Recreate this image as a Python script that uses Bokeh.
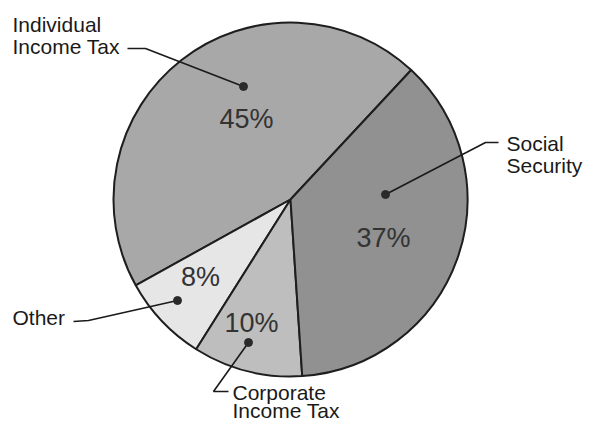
import math
from bokeh.plotting import figure
from bokeh.models import Range1d, ColumnDataSource
from bokeh.core.properties import value
from bokeh.embed import file_html
from bokeh.resources import INLINE

# ---- data ----
categories = ["Individual Income Tax", "Other", "Corporate Income Tax", "Social Security"]
shares = [45, 8, 10, 37]
pct_labels = ["45%", "8%", "10%", "37%"]
colors = ["#a8a8a8", "#e6e6e6", "#bebebe", "#919191"]

W, H = 583, 422
p = figure(width=W, height=H, output_backend="svg", toolbar_location=None,
           x_range=Range1d(0, W), y_range=Range1d(430 - H, 430),
           x_axis_location=None, y_axis_location=None,
           min_border=0, outline_line_color=None)
p.grid.visible = False
p.background_fill_color = "white"
p.border_fill_color = "white"

def Y(img_y):
    return 430 - img_y

cx, cy, r = 290, Y(199), 177
start0 = math.radians(47)
total = sum(shares)
starts, ends = [], []
a = start0
for s in shares:
    starts.append(a)
    a += 2 * math.pi * s / total
    ends.append(a)

src = ColumnDataSource(dict(cat=categories, start=starts, end=ends, color=colors))
p.wedge(x=cx, y=cy, radius=r, start_angle="start", end_angle="end",
        fill_color="color", line_color="#1e1e1e", line_width=2, source=src)

# percent labels (positions are layout)
pct_x = [246, 200, 251, 383]
pct_y = [Y(118), Y(276), Y(322), Y(237)]
p.text(x=pct_x, y=pct_y, text=pct_labels, text_font=value("Liberation Sans"),
       text_font_size="27px", text_color="#333333", text_align="center",
       text_baseline="middle")

# leader lines
leaders_x = [[127, 145, 243], [385, 485, 498], [73, 88, 177], [248, 213, 228]]
leaders_y = [[Y(48), Y(48), Y(86)], [Y(194), Y(142), Y(142)],
             [Y(321), Y(320), Y(300)], [Y(342), Y(391), Y(391)]]
p.multi_line(xs=leaders_x, ys=leaders_y, line_color="#1a1a1a", line_width=1.6)
p.scatter(x=[243, 385, 177, 248], y=[Y(86), Y(194), Y(300), Y(342)],
          size=8, fill_color="#2a2a2a", line_color="#2a2a2a")

# category labels
lab_text = ["Individual", "Income Tax", "Social", "Security", "Other",
            "Corporate", "Income Tax"]
lab_x = [12, 12, 506, 506, 12, 232, 232]
lab_y = [Y(24), Y(45.5), Y(142.5), Y(164.5), Y(317), Y(392), Y(410)]
p.text(x=lab_x, y=lab_y, text=lab_text, text_font=value("Liberation Sans"),
       text_font_size="21px", text_color="#1a1a1a", text_align="left",
       text_baseline="middle")

open("out.html", "w").write(file_html(p, INLINE))
